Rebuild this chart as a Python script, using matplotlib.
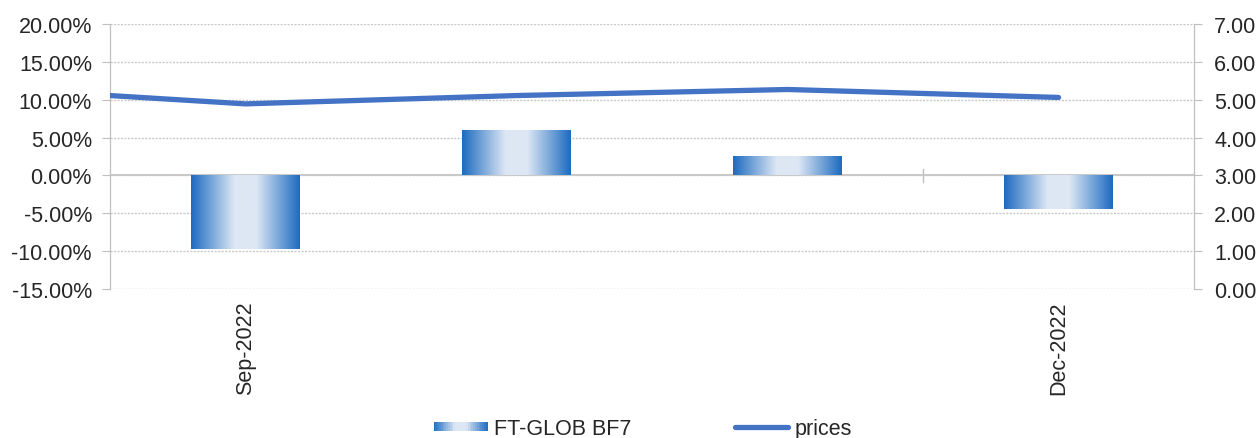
import matplotlib.pyplot as plt
import numpy as np
from matplotlib.colors import LinearSegmentedColormap
from matplotlib.patches import Rectangle
from matplotlib.lines import Line2D
from matplotlib.legend_handler import HandlerBase

plt.rcParams['font.family'] = ['Liberation Sans', 'DejaVu Sans']

# data
categories = ['Sep-2022', '', '', 'Dec-2022']
returns = [-9.72, 6.0, 2.6, -4.44]          # FT-GLOB BF7, percent
price_pos = [-0.5, 0, 1, 2, 3]               # line points in category units
prices = [5.11, 4.89, 5.11, 5.27, 5.06]

BLUE_DARK = '#1d6bc0'
BLUE_LIGHT = '#dde7f4'
LINE_BLUE = '#4472c4'
GRID = '#c9c9c9'
TEXT = '#262626'
FS = 15.5

grad = LinearSegmentedColormap.from_list(
    'bar_grad', [(0, BLUE_DARK), (0.4, BLUE_LIGHT), (0.6, BLUE_LIGHT), (1, BLUE_DARK)])


class GradientHandler(HandlerBase):
    def create_artists(self, legend, orig_handle, xdescent, ydescent,
                       width, height, fontsize, trans):
        n = 30
        out = []
        h = height * 0.6
        y0 = -ydescent + (height - h) / 2
        for i in range(n):
            r = Rectangle((-xdescent + width * i / n, y0), width / n * 1.05, h,
                          facecolor=grad((i + 0.5) / n), edgecolor='none',
                          transform=trans)
            out.append(r)
        return out


fig = plt.figure(figsize=(12.56, 4.39), dpi=100)
ax = fig.add_axes([110 / 1256, 1 - 290 / 439, 1084 / 1256, 265 / 439])
ax2 = ax.twinx()

x = np.arange(len(categories))
bars = ax.bar(x, returns, width=0.4, color='none', edgecolor='none', zorder=2)
gx = np.linspace(0, 1, 256).reshape(1, -1)
for b in bars:
    bx, by = b.get_x(), b.get_y()
    bw, bh = b.get_width(), b.get_height()
    im = ax.imshow(gx, cmap=grad, aspect='auto', zorder=2,
                   extent=[bx, bx + bw, min(by, by + bh), max(by, by + bh)])
    im.set_clip_path(b)

ax.set_xlim(-0.5, 3.5)
ax.set_ylim(-15, 20)
ax.set_yticks(np.arange(-15, 21, 5))
ax.set_yticklabels(['%.2f%%' % v for v in np.arange(-15, 21, 5)])
ax.grid(axis='y', color=GRID, linestyle=(0, (1.5, 1)), linewidth=1.0, zorder=0)
ax.axhline(0, color='#bfbfbf', linewidth=1.2, zorder=1)
ax.plot([2.5, 2.5], [-0.9, 0.9], color='#bfbfbf', linewidth=1.0, zorder=1)

ax.set_xticks(x)
ax.set_xticklabels(categories, rotation=90, fontsize=FS, color=TEXT)
ax.tick_params(axis='x', length=0, pad=8)
ax.tick_params(axis='y', labelsize=FS, labelcolor=TEXT, color='#bfbfbf',
               length=6, pad=7)

ax2.plot(price_pos, prices, color=LINE_BLUE, linewidth=3.8,
         solid_capstyle='round', solid_joinstyle='round', zorder=3)
ax2.set_ylim(0, 7)
ax2.set_yticks(np.arange(0, 8, 1))
ax2.set_yticklabels(['%.2f' % v for v in np.arange(0, 8, 1)])
ax2.tick_params(axis='y', labelsize=FS, labelcolor=TEXT, color='#bfbfbf',
                length=6, pad=8.5)

for a in (ax, ax2):
    a.spines['top'].set_visible(False)
    a.spines['bottom'].set_visible(False)
    a.spines['left'].set_color('#bfbfbf')
    a.spines['right'].set_color('#bfbfbf')

handles = [Rectangle((0, 0), 1, 1), Line2D([], [], color=LINE_BLUE, linewidth=3.8,
                                          solid_capstyle='round')]
fig.legend(handles, ['FT-GLOB BF7', 'prices'], ncol=2, frameon=False,
           loc='center', bbox_to_anchor=(643 / 1256, 1 - 430 / 439),
           fontsize=FS, labelcolor=TEXT, handlelength=2.5, handletextpad=0.3,
           columnspacing=4.8, handler_map={Rectangle: GradientHandler()})

fig.savefig('out.png', dpi=100)
